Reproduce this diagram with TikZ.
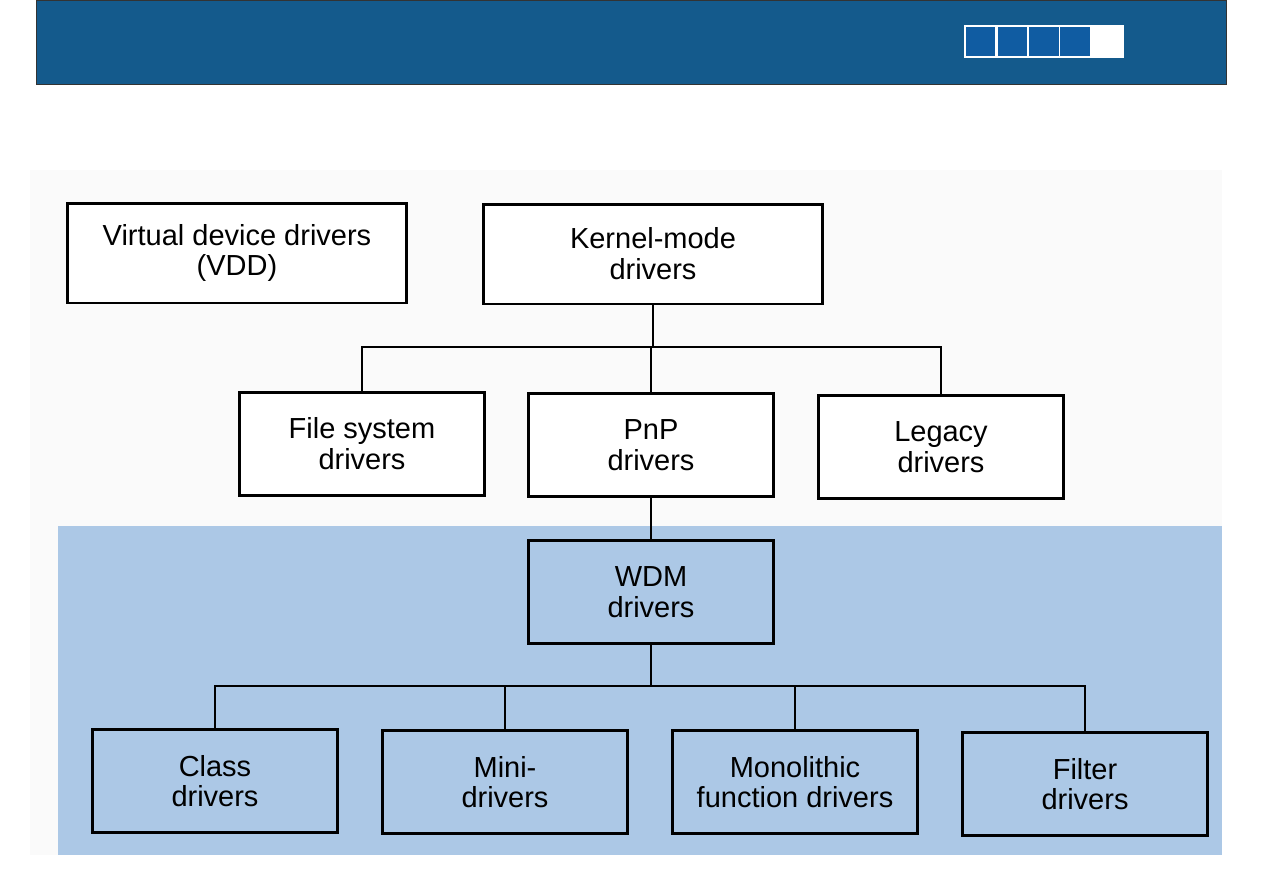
\documentclass[tikz,border=0pt]{standalone}
\usepackage{fontspec}
\setmainfont{Liberation Sans}
\usetikzlibrary{positioning,calc}
\definecolor{barblue}{RGB}{20,90,140}
\definecolor{tabblue}{RGB}{16,92,162}
\definecolor{wdmblue}{RGB}{172,200,230}
\definecolor{paper}{RGB}{250,250,250}

\begin{document}
\begin{tikzpicture}[
  x=0.02cm, y=-0.02cm,
  font=\fontsize{16.5}{17.5}\selectfont,
  every node/.style={align=center},
  box/.style={draw, line width=1.7pt, minimum width=4.9cm, minimum height=2.05cm, inner sep=0pt},
  wide/.style={box, minimum width=6.8cm, minimum height=2cm},
  link/.style={line width=1.6pt}
]
\useasboundingbox (0,0) rectangle (1263,893);
% header bar with the page tabs
\fill[white] (0,0) rectangle (1263,893);
\draw[fill=barblue, draw=black!80] (36,0) rectangle (1226,84);
\fill[white] (964,25) rectangle (1124,58);
\foreach \a/\b in {966/995,998/1027,1029/1059,1060/1090}
  \fill[tabblue] (\a,27) rectangle (\b,56);
% scanned page and shaded WDM part
\fill[paper] (30,170) rectangle (1222,855);
\fill[wdmblue] (58,526) rectangle (1222,855);

\node[wide, fill=white] (vdd) at (237,253) {Virtual device drivers\\(VDD)};
\node[wide, fill=white] (kernel) at (653,254) {Kernel-mode\\drivers};
\node[box, fill=white] (fs) at (362,444) {File system\\drivers};
\node[box, fill=white] (pnp) at (651,445) {PnP\\drivers};
\node[box, fill=white] (legacy) at (941,447) {Legacy\\drivers};
\node[box] (wdm) at (651,592) {WDM\\drivers};
\node[box] (cls) at (215,781) {Class\\drivers};
\node[box] (mini) at (505,782) {Mini-\\drivers};
\node[box] (mono) at (795,782) {Monolithic\\function drivers};
\node[box] (filt) at (1085,784) {Filter\\drivers};

\coordinate (bus1) at (653,347);
\coordinate (bus2) at (651,686);

\draw[link] (kernel.south) -- (bus1);
\draw[link] (fs.north) |- (bus1) -| (legacy.north);
\draw[link] (pnp.north) -- (pnp.north |- bus1);
\draw[link] (pnp.south) -- (wdm.north);
\draw[link] (wdm.south) -- (bus2);
\draw[link] (cls.north) |- (bus2) -| (filt.north);
\foreach \n in {mini,mono} \draw[link] (\n.north) -- (\n.north |- bus2);
\end{tikzpicture}
\end{document}
